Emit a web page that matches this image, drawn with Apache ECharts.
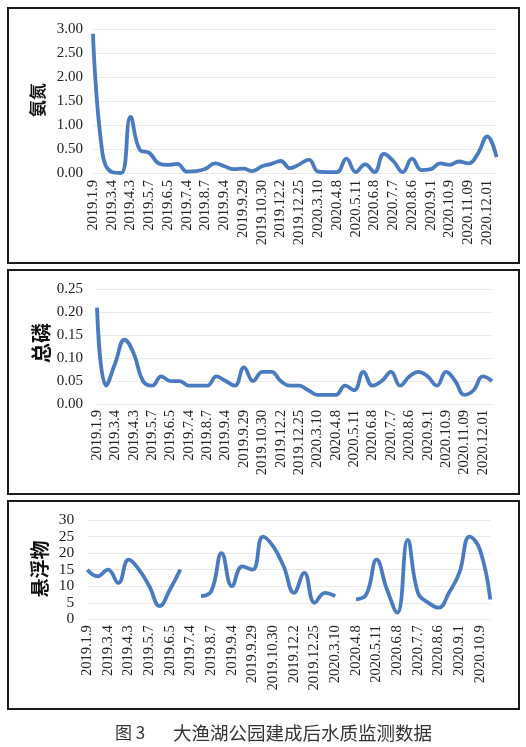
<!DOCTYPE html>
<html>
<head>
<meta charset="utf-8">
<script src="https://cdn.jsdelivr.net/npm/echarts@6/dist/echarts.min.js"></script>
<style>
html,body{margin:0;padding:0;background:#fff;}
#c{width:526px;height:747px;}
</style>
</head>
<body>
<div id="c"></div>
<script>
// visible tick labels (every other sample date)
const tickLabels = ['2019.1.9','2019.3.4','2019.4.3','2019.5.7','2019.6.5','2019.7.4','2019.8.7','2019.9.4','2019.9.29','2019.10.30','2019.12.2','2019.12.25','2020.3.10','2020.4.8','2020.5.11','2020.6.8','2020.7.7','2020.8.6','2020.9.1','2020.10.9','2020.11.09','2020.12.01'];
// 氨氮
const ammonia = [2.9, 0.42, 0.02, 0, 1.17, 0.48, 0.42, 0.2, 0.17, 0.19, 0.03, 0.04, 0.09, 0.2, 0.14, 0.08, 0.09, 0.04, 0.14, 0.19, 0.25, 0.1, 0.18, 0.28, 0.03, 0.02, 0.02, 0.3, 0.02, 0.18, 0.02, 0.4, 0.25, 0.02, 0.3, 0.06, 0.08, 0.2, 0.17, 0.24, 0.2, 0.4, 0.76, 0.33];
// 总磷
const phosphorus = [0.21, 0.04, 0.09, 0.14, 0.11, 0.05, 0.04, 0.06, 0.05, 0.05, 0.04, 0.04, 0.04, 0.06, 0.05, 0.04, 0.08, 0.05, 0.07, 0.07, 0.05, 0.04, 0.04, 0.03, 0.02, 0.02, 0.02, 0.04, 0.03, 0.07, 0.04, 0.05, 0.07, 0.04, 0.06, 0.07, 0.06, 0.04, 0.07, 0.05, 0.02, 0.03, 0.06, 0.05];
// 悬浮物
const suspended = [15, 13, 15, 11, 18, 15, 10, 4, 9, 15, null, 7, 8.5, 20, 10, 16, 15, 25, 22, 16, 8, 14, 5, 8, 7, null, 6, 7.5, 18, 9, 2, 24, 8, 5, 3.5, 8, 14, 25, 21, 6];

const yNames = ['氨氮', '总磷', '悬浮物'];
const caption = ['图 3', '大渔湖公园建成后水质监测数据'];

// sample positions (category = sample number)
const samples1 = ammonia.map((_, i) => String(i));
const samples3 = suspended.map((_, i) => String(i));

const lineColor = '#4a7bc0';
const txt = '#222';
const serif = 'Liberation Serif';

function xAxis(gi, data, margin) {
  return {
    type: 'category', gridIndex: gi, data: data, boundaryGap: false,
    axisLine: {show: false}, axisTick: {show: false},
    axisLabel: {
      interval: 1, rotate: 90, margin: margin, color: txt,
      fontFamily: serif, fontSize: 14.5,
      formatter: (v, idx) => tickLabels[Math.round(Number(v) / 2)] || ''
    }
  };
}
function yAxis(gi, max, interval, digits, margin, fs) {
  return {
    type: 'value', gridIndex: gi, min: 0, max: max, interval: interval,
    axisLine: {show: false}, axisTick: {show: false},
    splitLine: {lineStyle: {color: '#e9e9e9', width: 1}},
    axisLabel: {
      margin: margin, color: txt, fontFamily: serif, fontSize: fs,
      formatter: v => Number(v).toFixed(digits)
    }
  };
}
function series(gi, data) {
  return {
    type: 'line', xAxisIndex: gi, yAxisIndex: gi, data: data,
    smooth: 0.45, symbol: 'none', connectNulls: false,
    lineStyle: {color: lineColor, width: 3.8}
  };
}
function box(x1, y1, x2, y2) {
  return {type: 'rect', shape: {x: x1, y: y1, width: x2 - x1, height: y2 - y1},
    style: {fill: 'none', stroke: '#1a1a1a', lineWidth: 2}, silent: true};
}
function vname(text, x, y, fs) {
  return {type: 'text', x: x, y: y, rotation: Math.PI / 2,
    style: {text: text, fill: '#111', font: 'bold ' + fs + 'px "Noto Sans CJK SC"',
      align: 'center', verticalAlign: 'middle'}};
}

const chart = echarts.init(document.getElementById('c'));
chart.setOption({
  animation: false,
  backgroundColor: '#fff',
  grid: [
    {left: 93, top: 29, width: 403.5, height: 144},
    {left: 97, top: 289.3, width: 395, height: 114.7},
    {left: 87.3, top: 520, width: 403, height: 99.3}
  ],
  xAxis: [xAxis(0, samples1, 7), xAxis(1, samples1, 6), xAxis(2, samples3, 6)],
  yAxis: [yAxis(0, 3, 0.5, 2, 10, 15), yAxis(1, 0.25, 0.05, 2, 14, 15), yAxis(2, 30, 5, 0, 13, 15.5)],
  series: [series(0, ammonia), series(1, phosphorus), series(2, suspended)],
  graphic: [
    box(8, 8, 519, 263),
    box(8, 270, 519, 494),
    box(8, 501, 519, 709),
    vname(yNames[0], 37.5, 100, 17),
    vname(yNames[1], 41, 343, 20),
    vname(yNames[2], 40, 569, 19),
    {type: 'text', x: 115, y: 733, style: {text: caption[0], fill: '#333',
      font: '17px "Noto Sans CJK SC"', align: 'left', verticalAlign: 'middle'}},
    {type: 'text', x: 173, y: 733, style: {text: caption[1], fill: '#333',
      font: '18.5px "Noto Sans CJK SC"', align: 'left', verticalAlign: 'middle'}}
  ]
});
</script>
</body>
</html>
